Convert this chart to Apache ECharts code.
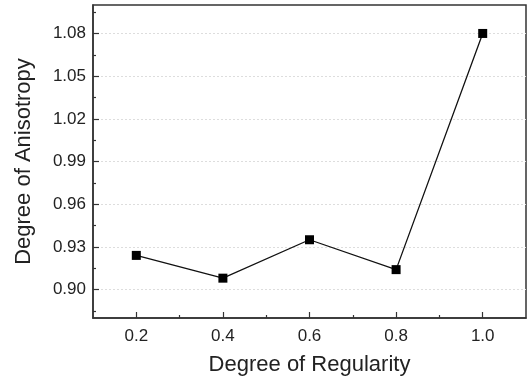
<!DOCTYPE html>
<html><head><meta charset="utf-8">
<script src="https://cdn.jsdelivr.net/npm/echarts@6/dist/echarts.min.js"></script>
<style>html,body{margin:0;padding:0;background:#fff}#c{width:528px;height:383px}</style>
</head><body><div id="c"></div>
<script>
const xValues = [0.2, 0.4, 0.6, 0.8, 1.0];
const yValues = [0.924, 0.908, 0.935, 0.914, 1.08];
const xMajorTicks = [0.2, 0.4, 0.6, 0.8, 1.0];
const xMinorTicks = [0.3, 0.5, 0.7, 0.9];
const yMajorTicks = [0.90, 0.93, 0.96, 0.99, 1.02, 1.05, 1.08];
const yMinorTicks = [0.885, 0.915, 0.945, 0.975, 1.005, 1.035, 1.065, 1.095];
const xName = 'Degree of Regularity';
const yName = 'Degree of Anisotropy';

const font = 'Liberation Sans, Arial, sans-serif';
const chart = echarts.init(document.getElementById('c'));
const lineCol = '#333';
chart.setOption({
  animation: false,
  grid: {left: 93, right: 2, top: 5, bottom: 65, show: true, borderColor: lineCol, borderWidth: 1.5, backgroundColor: 'transparent'},
  xAxis: [{
    type: 'value', min: 0.1, max: 1.1,
    name: xName, nameLocation: 'middle', nameGap: 36,
    nameTextStyle: {fontFamily: font, fontSize: 22, color: '#222'},
    axisLine: {show: true, onZero: false, lineStyle: {color: lineCol, width: 1.5}},
    axisTick: {show: true, inside: true, length: 6, customValues: xMajorTicks, lineStyle: {color: lineCol, width: 1.2}},
    axisLabel: {customValues: xMajorTicks, fontFamily: font, fontSize: 17, color: '#222', margin: 10,
      formatter: v => v.toFixed(1)},
    splitLine: {show: false}
  }, {
    type: 'value', min: 0.1, max: 1.1, position: 'bottom',
    axisLine: {show: false},
    axisTick: {show: true, inside: true, length: 3, customValues: xMinorTicks, lineStyle: {color: lineCol, width: 1.2}},
    axisLabel: {show: false},
    splitLine: {show: false}
  }],
  yAxis: [{
    type: 'value', min: 0.88, max: 1.10,
    name: yName, nameLocation: 'middle', nameGap: 58,
    nameTextStyle: {fontFamily: font, fontSize: 22, color: '#222'},
    axisLine: {show: true, onZero: false, lineStyle: {color: lineCol, width: 1.5}},
    axisTick: {show: true, inside: true, length: 6, customValues: yMajorTicks, lineStyle: {color: lineCol, width: 1.2}},
    axisLabel: {customValues: yMajorTicks, fontFamily: font, fontSize: 17, color: '#222', margin: 7,
      formatter: v => v.toFixed(2)},
    splitLine: {show: true, lineStyle: {color: '#ddd', type: [2, 2], width: 1}}
  }, {
    type: 'value', min: 0.88, max: 1.10, position: 'left',
    axisLine: {show: false},
    axisTick: {show: true, inside: true, length: 3, customValues: yMinorTicks, lineStyle: {color: lineCol, width: 1.2}},
    axisLabel: {show: false},
    splitLine: {show: false}
  }],
  series: [{
    type: 'line',
    data: xValues.map((x, i) => [x, yValues[i]]),
    symbol: 'rect', symbolSize: 9,
    itemStyle: {color: '#000'},
    lineStyle: {color: '#111', width: 1.3}
  }]
});
</script></body></html>
